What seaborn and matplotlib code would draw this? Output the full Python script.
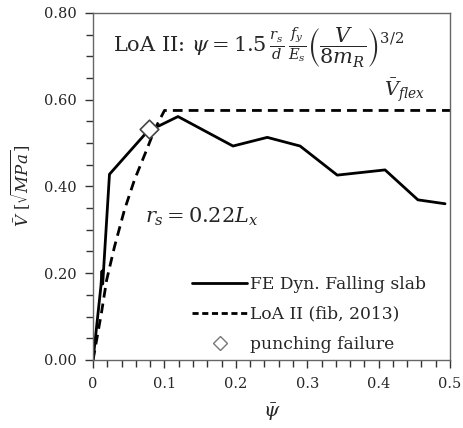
import numpy as np
import pandas as pd
import matplotlib
matplotlib.use("Agg")
import matplotlib.pyplot as plt
import seaborn as sns
from matplotlib.ticker import MultipleLocator
from matplotlib.lines import Line2D

# ---- data ----
fe_psi = [0.0, 0.011, 0.0125, 0.0135, 0.023, 0.078, 0.093, 0.119, 0.196, 0.244, 0.290, 0.342, 0.409, 0.455, 0.493]
fe_v   = [0.0, 0.170, 0.205, 0.175, 0.428, 0.530, 0.540, 0.561, 0.493, 0.513, 0.493, 0.426, 0.438, 0.369, 0.360]

loa_psi = [0.0, 0.0117, 0.019, 0.030, 0.044, 0.058, 0.075, 0.086, 0.100, 0.500]
loa_v   = [0.0, 0.108, 0.184, 0.261, 0.346, 0.415, 0.484, 0.530, 0.575, 0.575]

fail_psi = [0.078]
fail_v   = [0.532]

xticks = [0, 0.1, 0.2, 0.3, 0.4, 0.5]
xticklabels = ["0", "0.1", "0.2", "0.3", "0.4", "0.5"]
yticks = [0.0, 0.2, 0.4, 0.6, 0.8]
yticklabels = ["0.00", "0.20", "0.40", "0.60", "0.80"]

fe_df = pd.DataFrame({"psi": fe_psi, "V": fe_v})
loa_df = pd.DataFrame({"psi": loa_psi, "V": loa_v})
fail_df = pd.DataFrame({"psi": fail_psi, "V": fail_v})

sns.set_theme(style="ticks")
plt.rcParams["font.family"] = ["DejaVu Serif"]
plt.rcParams["mathtext.fontset"] = "dejavuserif"

fig = plt.figure(figsize=(4.63, 4.28), dpi=100)
ax = fig.add_axes([0.201, 0.159, 0.771, 0.811])

sns.lineplot(data=fe_df, x="psi", y="V", ax=ax, color="black", lw=2.0, sort=False,
             estimator=None)
sns.lineplot(data=loa_df, x="psi", y="V", ax=ax, color="black", lw=2.0, sort=False,
             estimator=None)
ax.lines[-1].set_dashes((3.5, 2.2))
sns.scatterplot(data=fail_df, x="psi", y="V", ax=ax, marker="D", s=90,
                facecolor="white", edgecolor="#444444", linewidth=1.2, zorder=5)

ax.set_xlim(0, 0.5)
ax.set_ylim(0, 0.8)
ax.set_xticks(xticks)
ax.set_xticklabels(xticklabels)
ax.set_yticks(yticks)
ax.set_yticklabels(yticklabels)
ax.xaxis.set_minor_locator(MultipleLocator(0.02))
ax.yaxis.set_minor_locator(MultipleLocator(0.05))
ax.tick_params(axis="both", which="major", direction="out", length=6, width=1,
               color="#333333", labelsize=10.5, pad=6)
ax.tick_params(axis="both", which="minor", direction="out", length=5, width=1,
               color="#333333")
for s in ax.spines.values():
    s.set_color("#666666")
    s.set_linewidth(1.0)

ax.set_xlabel(r"$\bar{\psi}$", fontsize=14, labelpad=8)
ax.set_ylabel(r"$\bar{V}\ [\sqrt{MPa}]$", fontsize=12, labelpad=8)

ax.text(0.028, 0.72,
        r"LoA II: $\psi = 1.5\,\frac{r_s}{d}\,\frac{f_y}{E_s}\left(\dfrac{V}{8m_R}\right)^{3/2}$",
        fontsize=15, va="center", ha="left")
ax.text(0.465, 0.622, r"$\bar{V}_{flex}$", fontsize=14, va="center", ha="right")
ax.text(0.073, 0.33, r"$r_s = 0.22L_x$", fontsize=15, va="center", ha="left")

handles = [
    Line2D([], [], color="black", lw=2.0),
    Line2D([], [], color="black", lw=2.0, dashes=(2.2, 1.3)),
    Line2D([], [], color="#777777", lw=0, marker="D", markersize=7,
           markerfacecolor="white", markeredgecolor="#777777", markeredgewidth=1.0),
]
labels = ["FE Dyn. Falling slab", "LoA II (fib, 2013)", "punching failure"]
ax.legend(handles, labels, loc="lower right", frameon=False, fontsize=12.3,
          handlelength=3.2, handletextpad=0.15, labelspacing=0.78,
          bbox_to_anchor=(0.965, -0.015), borderaxespad=0.3)

fig.savefig("out.png", dpi=100)
